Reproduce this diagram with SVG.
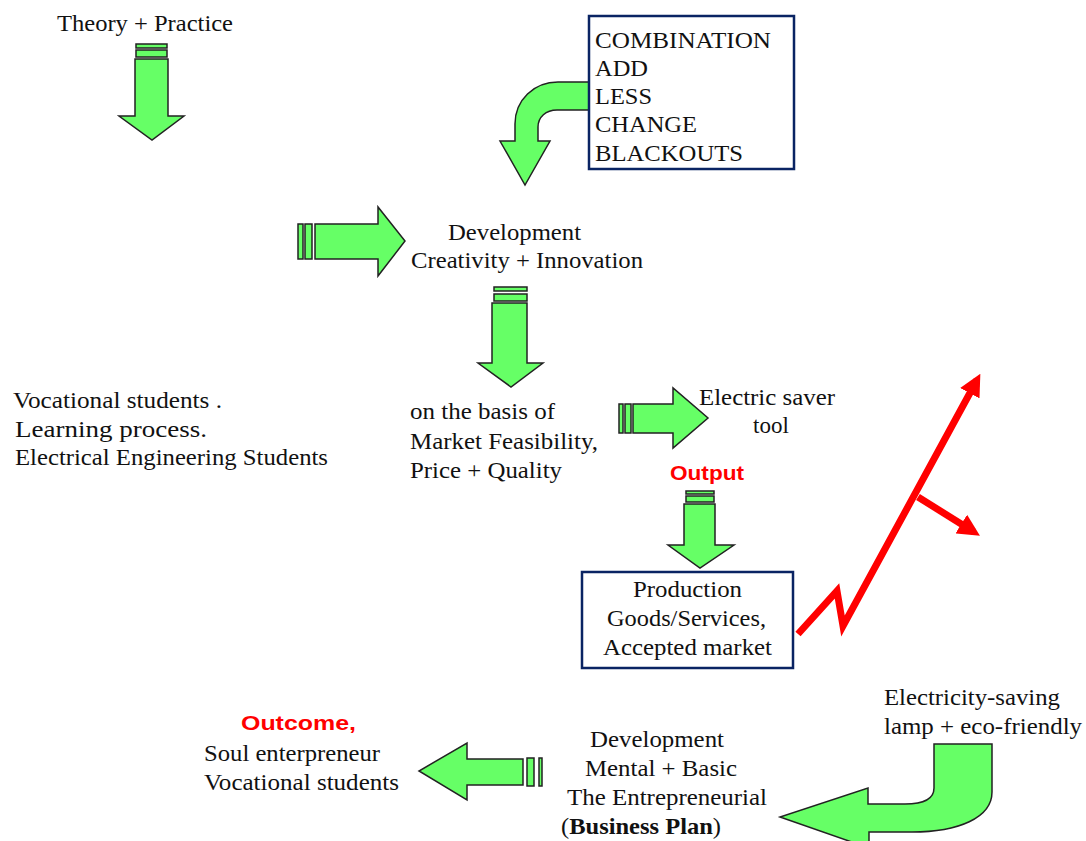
<svg xmlns="http://www.w3.org/2000/svg" width="1086" height="841" viewBox="0 0 1086 841">
<style>
.t{font-family:'Liberation Serif','DejaVu Serif','Times New Roman',serif;font-size:23px;fill:#111}
.r{font-family:'Liberation Sans','DejaVu Sans',Arial,sans-serif;font-size:21px;font-weight:bold;fill:#FF0000}
.ga{fill:#66FF66;stroke:#222;stroke-width:1.5;stroke-linejoin:miter}
.box{fill:#fff;stroke:#0A2463;stroke-width:2.5}
.red{fill:none;stroke:#FF0000;stroke-width:7;stroke-linejoin:miter}
</style>
<defs>
<marker id="rh" markerUnits="userSpaceOnUse" markerWidth="22" markerHeight="22" viewBox="0 0 22 22" refX="15" refY="11" orient="auto">
<path d="M0,0 L22,11 L0,22 Z" fill="#FF0000"/>
</marker>
</defs>
<rect width="1086" height="841" fill="#fff"/>

<g id="connectors">
<g id="arrow-theory">
<rect class="ga" x="136" y="44" width="31" height="4"/>
<rect class="ga" x="136" y="50" width="31" height="7"/>
<polygon class="ga" points="135,59 168,59 168,116 184,116 152,140 119,116 135,116"/>
</g>
<g id="arrow-combination">
<path class="ga" d="M 592 82 L 558 82 C 534 82 515 100 515 124 L 515 141 L 500 141 L 525 185 L 550 141 L 538 141 L 538 127 C 538 117 546 110 557 110 L 592 110 Z"/>
</g>
<g id="arrow-to-development">
<rect class="ga" x="298" y="224" width="5" height="35"/>
<rect class="ga" x="305" y="224" width="7" height="35"/>
<polygon class="ga" points="315,224 378,224 378,207 405,241 378,276 378,259 315,259"/>
</g>
<g id="arrow-dev-down">
<rect class="ga" x="494" y="287" width="33" height="4"/>
<rect class="ga" x="494" y="294" width="33" height="7"/>
<polygon class="ga" points="492,303 527,303 527,363 543,363 511,387 478,363 492,363"/>
</g>
<g id="arrow-to-saver">
<rect class="ga" x="619" y="404" width="4" height="29"/>
<rect class="ga" x="625" y="404" width="6" height="29"/>
<polygon class="ga" points="633,404 673,404 673,388 708,418 673,448 673,433 633,433"/>
</g>
<g id="arrow-output">
<rect class="ga" x="686" y="491" width="28" height="3"/>
<rect class="ga" x="686" y="496" width="28" height="6"/>
<polygon class="ga" points="684,504 715,504 715,545 734,545 700,568 668,545 684,545"/>
</g>
<g id="arrow-lamp">
<path class="ga" d="M 934 744 L 992 744 L 992 792 C 992 818 958 832 912 832 L 869 832 L 869 848 L 780 817 L 868 788 L 868 804 L 905 804 C 925 804 934 798 934 788 Z"/>
</g>
<g id="arrow-outcome">
<rect class="ga" x="527" y="758" width="7" height="28"/>
<rect class="ga" x="539" y="758" width="3" height="28"/>
<polygon class="ga" points="523,759 467,759 467,743 419,771 467,800 467,785 523,785"/>
</g>
<g id="red-growth">
<polyline class="red" points="798,634 837,591 843,626 977,380" marker-end="url(#rh)"/>
<line class="red" x1="918" y1="497" x2="974" y2="532" marker-end="url(#rh)"/>
</g>
</g>

<g id="node-theory">
<text class="t" x="57" y="31" textLength="176" lengthAdjust="spacingAndGlyphs">Theory + Practice</text>
</g>

<g id="node-combination">
<rect class="box" x="589" y="16" width="205" height="153"/>
<text class="t" x="595" y="48" textLength="176" lengthAdjust="spacingAndGlyphs">COMBINATION</text>
<text class="t" x="595" y="76" textLength="53" lengthAdjust="spacingAndGlyphs">ADD</text>
<text class="t" x="595" y="104" textLength="57" lengthAdjust="spacingAndGlyphs">LESS</text>
<text class="t" x="595" y="132" textLength="102" lengthAdjust="spacingAndGlyphs">CHANGE</text>
<text class="t" x="595" y="161" textLength="148" lengthAdjust="spacingAndGlyphs">BLACKOUTS</text>
</g>

<g id="node-development">
<text class="t" x="448" y="240" textLength="133" lengthAdjust="spacingAndGlyphs">Development</text>
<text class="t" x="411" y="268" textLength="232" lengthAdjust="spacingAndGlyphs">Creativity + Innovation</text>
</g>

<g id="node-students">
<text class="t" x="13" y="408" textLength="209" lengthAdjust="spacingAndGlyphs">Vocational students .</text>
<text class="t" x="15" y="437" textLength="192" lengthAdjust="spacingAndGlyphs">Learning  process.</text>
<text class="t" x="15" y="465" textLength="313" lengthAdjust="spacingAndGlyphs">Electrical Engineering Students</text>
</g>

<g id="node-basis">
<text class="t" x="410" y="419" textLength="145" lengthAdjust="spacingAndGlyphs">on the basis of</text>
<text class="t" x="410" y="449" textLength="188" lengthAdjust="spacingAndGlyphs">Market Feasibility,</text>
<text class="t" x="410" y="478" textLength="152" lengthAdjust="spacingAndGlyphs">Price + Quality</text>
</g>

<g id="node-saver">
<text class="t" x="699" y="405" textLength="136" lengthAdjust="spacingAndGlyphs">Electric saver</text>
<text class="t" x="771" y="433" text-anchor="middle">tool</text>
</g>

<g id="node-output">
<text class="r" x="670" y="480" textLength="74" lengthAdjust="spacingAndGlyphs">Output</text>
</g>

<g id="node-production">
<rect class="box" x="582" y="572" width="211" height="96"/>
<text class="t" x="633" y="597" textLength="109" lengthAdjust="spacingAndGlyphs">Production</text>
<text class="t" x="607" y="626" textLength="159" lengthAdjust="spacingAndGlyphs">Goods/Services,</text>
<text class="t" x="603" y="655" textLength="169" lengthAdjust="spacingAndGlyphs">Accepted market</text>
</g>

<g id="node-lamp">
<text class="t" x="884" y="705" textLength="176" lengthAdjust="spacingAndGlyphs">Electricity-saving</text>
<text class="t" x="884" y="734" textLength="198" lengthAdjust="spacingAndGlyphs">lamp + eco-friendly</text>
</g>

<g id="node-mental">
<text class="t" x="590" y="747" textLength="134" lengthAdjust="spacingAndGlyphs">Development</text>
<text class="t" x="585" y="776" textLength="152" lengthAdjust="spacingAndGlyphs">Mental + Basic</text>
<text class="t" x="567" y="805" textLength="200" lengthAdjust="spacingAndGlyphs">The Entrepreneurial</text>
<text class="t" x="561" y="834" textLength="160" lengthAdjust="spacingAndGlyphs">(<tspan font-weight="bold">Business Plan</tspan>)</text>
</g>

<g id="node-outcome">
<text class="r" x="241" y="730" textLength="115" lengthAdjust="spacingAndGlyphs">Outcome,</text>
<text class="t" x="204" y="761" textLength="176" lengthAdjust="spacingAndGlyphs">Soul enterpreneur</text>
<text class="t" x="204" y="790" textLength="195" lengthAdjust="spacingAndGlyphs">Vocational students</text>
</g>
</svg>
